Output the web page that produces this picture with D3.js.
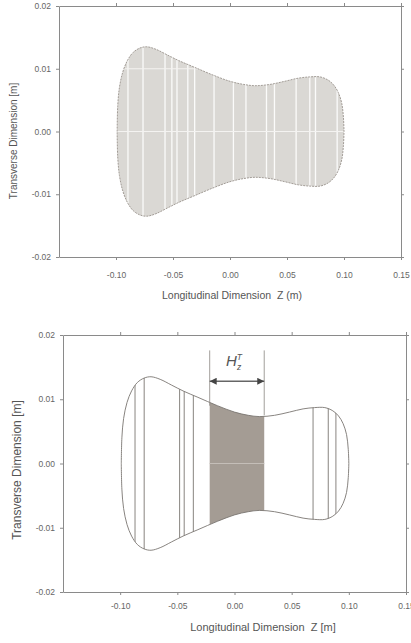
<!DOCTYPE html>
<html lang="en">
<head>
  <meta charset="UTF-8">
  <title>Transverse profile</title>
  <script src="https://d3js.org/d3.v7.min.js"></script>
  <style>
    body { margin: 0; background: #fff; }
    text { font-family: "Liberation Sans", Arial, sans-serif; white-space: pre; }
  </style>
</head>
<body>
  <svg id="chart" width="411" height="643"></svg>

  <script>
    // outline of the cross-section, upper half (z, half width), both in metres
    const profileZ = [-0.099, -0.0985, -0.097, -0.094, -0.090, -0.085, -0.079, -0.073, -0.065, -0.055,
                      -0.045, -0.032, -0.015, 0.000, 0.012, 0.022, 0.035, 0.048, 0.060, 0.070,
                      0.079, 0.086, 0.091, 0.095, 0.098, 0.0995, 0.100];
    const profileR = [0.000, 0.0040, 0.0070, 0.0095, 0.0113, 0.0126, 0.0133, 0.0135, 0.0131, 0.0122,
                      0.0113, 0.0103, 0.0090, 0.0080, 0.0075, 0.0073, 0.0075, 0.0080, 0.0085, 0.0087,
                      0.0087, 0.0082, 0.0074, 0.0062, 0.0045, 0.0022, 0.000];

    // white section lines in the upper plot
    const topStripes = [-0.0895, -0.0763, -0.057, -0.051, -0.0465, -0.037, -0.031, -0.014,
                        0.003, 0.014, 0.032, 0.039, 0.058, 0.070, 0.075, 0.094];
    const topGrid = [0.01, 0.00];

    // section lines in the lower plot and the shaded band H_z^T
    const bottomLines = [-0.087, -0.079, -0.048, -0.044, -0.036, 0.0687, 0.082, 0.0887];
    const bandZ = [-0.0217, 0.026];

    const xTicks = [-0.10, -0.05, 0.00, 0.05, 0.10, 0.15];
    const yTicks = [0.02, 0.01, 0.00, -0.01, -0.02];

    const profile = profileZ.map((z, i) => ({ z: z, r: profileR[i] }));
    const fmt = d => d.toFixed(2);

    const svg = d3.select("#chart");

    function drawPanel(p) {
      const x = d3.scaleLinear().domain([-0.15, 0.15]).range(p.xRange);
      const y = d3.scaleLinear().domain([-0.02, 0.02]).range(p.yRange);
      const g = svg.append("g");

      const area = d3.area()
        .x(d => x(d.z))
        .y0(d => y(-d.r))
        .y1(d => y(d.r))
        .curve(d3.curveCatmullRom);

      g.append("clipPath").attr("id", p.id)
        .append("path").attr("d", area(profile));

      // axes on all four sides, labels on bottom and left only
      const axes = [
        [d3.axisBottom(x).tickValues(xTicks).tickFormat(fmt), `translate(0,${p.yRange[0]})`, p.xPad],
        [d3.axisTop(x).tickValues(xTicks).tickFormat(""), `translate(0,${p.yRange[1]})`, 3],
        [d3.axisLeft(y).tickValues(yTicks).tickFormat(fmt), `translate(${p.xRange[0]},0)`, 5],
        [d3.axisRight(y).tickValues(yTicks).tickFormat(""), `translate(${p.xRange[1]},0)`, 3]
      ];
      axes.forEach(a => {
        const ax = g.append("g").attr("transform", a[1])
          .call(a[0].tickSizeInner(3).tickSizeOuter(0).tickPadding(a[2]));
        ax.selectAll("path, line").attr("stroke", "#8a8a8a");
        ax.selectAll("text").attr("fill", "#666").attr("font-size", 8.5);
      });

      g.append("text")
        .attr("x", p.xTitleX)
        .attr("y", p.xTitleY)
        .attr("text-anchor", "middle")
        .attr("font-size", p.xTitleSize)
        .attr("fill", "#555")
        .text(p.xTitle);

      g.append("text")
        .attr("transform", `translate(${p.yTitleX},${p.yTitleY}) rotate(-90)`)
        .attr("text-anchor", "middle")
        .attr("font-size", p.yTitleSize)
        .attr("fill", "#555")
        .text("Transverse Dimension [m]");

      return { g, x, y, area };
    }

    // ---- upper plot
    const upper = drawPanel({
      id: "clipTop", xRange: [59, 401], yRange: [257, 6], xPad: 12,
      xTitle: "Longitudinal Dimension  Z (m)", xTitleX: 232, xTitleY: 299, xTitleSize: 10.5,
      yTitleX: 17, yTitleY: 141, yTitleSize: 10
    });

    upper.g.append("path")
      .attr("d", upper.area(profile))
      .attr("fill", "#dad8d4")
      .attr("stroke", "none");

    const upperClip = upper.g.append("g").attr("clip-path", "url(#clipTop)");
    upperClip.selectAll("line.stripe")
      .data(topStripes)
      .join("line")
      .attr("class", "stripe")
      .attr("x1", d => upper.x(d)).attr("x2", d => upper.x(d))
      .attr("y1", upper.y(0.02)).attr("y2", upper.y(-0.02))
      .attr("stroke", "#fbfbfa")
      .attr("stroke-width", 1.3);
    upperClip.selectAll("line.grid")
      .data(topGrid)
      .join("line")
      .attr("class", "grid")
      .attr("x1", upper.x(-0.15)).attr("x2", upper.x(0.15))
      .attr("y1", d => upper.y(d)).attr("y2", d => upper.y(d))
      .attr("stroke", "#f4f3f1")
      .attr("stroke-width", 1);

    upper.g.append("path")
      .attr("d", upper.area(profile))
      .attr("fill", "none")
      .attr("stroke", "#a29c96")
      .attr("stroke-width", 1)
      .attr("stroke-dasharray", "2,1");

    // ---- lower plot
    const lower = drawPanel({
      id: "clipBot", xRange: [63, 406], yRange: [592, 335], xPad: 8,
      xTitle: "Longitudinal Dimension  Z [m]", xTitleX: 263, xTitleY: 631, xTitleSize: 11,
      yTitleX: 21, yTitleY: 470, yTitleSize: 12
    });

    const lowerClip = lower.g.append("g").attr("clip-path", "url(#clipBot)");
    lowerClip.append("rect")
      .attr("x", lower.x(bandZ[0]))
      .attr("width", lower.x(bandZ[1]) - lower.x(bandZ[0]))
      .attr("y", lower.y(0.02))
      .attr("height", lower.y(-0.02) - lower.y(0.02))
      .attr("fill", "#a49c94");
    lowerClip.append("line")
      .attr("x1", lower.x(bandZ[0])).attr("x2", lower.x(bandZ[1]))
      .attr("y1", lower.y(0)).attr("y2", lower.y(0))
      .attr("stroke", "#c4beb8")
      .attr("stroke-width", 1);
    lowerClip.selectAll("line.sect")
      .data(bottomLines)
      .join("line")
      .attr("class", "sect")
      .attr("x1", d => lower.x(d)).attr("x2", d => lower.x(d))
      .attr("y1", lower.y(0.02)).attr("y2", lower.y(-0.02))
      .attr("stroke", "#7a7672")
      .attr("stroke-width", 0.9);

    lower.g.append("path")
      .attr("d", lower.area(profile))
      .attr("fill", "none")
      .attr("stroke", "#7a7672")
      .attr("stroke-width", 0.9);

    // dimension H_z^T
    const defs = svg.append("defs");
    defs.append("marker")
      .attr("id", "arr")
      .attr("viewBox", "0 0 10 10")
      .attr("refX", 10).attr("refY", 5)
      .attr("markerWidth", 6).attr("markerHeight", 5)
      .attr("orient", "auto-start-reverse")
      .append("path")
      .attr("d", "M0,0 L10,5 L0,10 z")
      .attr("fill", "#444");

    lower.g.selectAll("line.ext")
      .data(bandZ)
      .join("line")
      .attr("class", "ext")
      .attr("x1", d => lower.x(d)).attr("x2", d => lower.x(d))
      .attr("y1", lower.y(0.0176))
      .attr("y2", d => lower.y(profileR[d3.bisectLeft(profileZ, d)]))
      .attr("stroke", "#8a8682")
      .attr("stroke-width", 0.8);

    lower.g.append("line")
      .attr("x1", lower.x(bandZ[0])).attr("x2", lower.x(bandZ[1]))
      .attr("y1", lower.y(0.0128)).attr("y2", lower.y(0.0128))
      .attr("stroke", "#666")
      .attr("stroke-width", 1.4)
      .attr("marker-start", "url(#arr)")
      .attr("marker-end", "url(#arr)");

    const lbl = lower.g.append("text")
      .attr("x", lower.x((bandZ[0] + bandZ[1]) / 2) - 3)
      .attr("y", lower.y(0.0151))
      .attr("font-family", "'Liberation Serif', 'DejaVu Serif', serif")
      .attr("font-style", "italic")
      .attr("font-size", 15)
      .attr("fill", "#555")
      .attr("text-anchor", "middle");
    lbl.append("tspan").text("H");
    lbl.append("tspan").attr("font-size", 8.5).attr("dy", -6).text("T");
    lbl.append("tspan").attr("font-size", 8.5).attr("dx", -5).attr("dy", 10).text("z");
  </script>
</body>
</html>
